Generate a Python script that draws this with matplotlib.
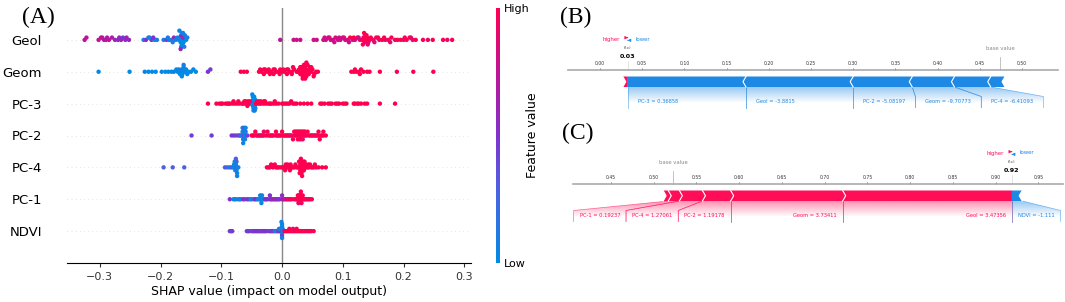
import numpy as np
import matplotlib
matplotlib.use("Agg")
import matplotlib.pyplot as plt
from matplotlib.colors import LinearSegmentedColormap, to_rgb
from matplotlib.patches import Polygon, FancyArrowPatch
from matplotlib.cm import ScalarMappable
from matplotlib.ticker import MultipleLocator, FormatStrFormatter

W, H = 1065, 302
RED, BLUE = "#ff0d57", "#1e88e5"

# ---------------- (A) summary plot: shap value + scaled feature value per sample
features = ["Geol", "Geom", "PC-3", "PC-2", "PC-4", "PC-1", "NDVI"]

geol_shap = [-0.325, -0.322, -0.302, -0.298, -0.293, -0.290, -0.285, -0.280, -0.275, -0.270, -0.265, -0.262, -0.258, -0.252,
             -0.228, -0.224, -0.220, -0.215, -0.210, -0.206, -0.195, -0.190, -0.186, -0.182, -0.178, -0.175,
             -0.172, -0.170, -0.168, -0.167, -0.166, -0.165, -0.165, -0.164, -0.163, -0.162, -0.160, -0.158, -0.156, -0.166, -0.164, -0.163,
             -0.296, -0.288, -0.268, -0.256, -0.218, -0.212, -0.188, -0.180, -0.169, -0.167, -0.161,
             -0.003, 0.019, 0.024, 0.030, 0.052, 0.057,
             0.068, 0.072, 0.076, 0.080, 0.084, 0.088, 0.092, 0.096, 0.100, 0.104,
             0.108, 0.112, 0.116, 0.120, 0.124, 0.128,
             0.132, 0.134, 0.136, 0.137, 0.138, 0.140, 0.142, 0.144,
             0.150, 0.155, 0.160, 0.165, 0.170, 0.175, 0.180, 0.186,
             0.195, 0.200, 0.205, 0.210, 0.215, 0.220,
             0.232, 0.240, 0.248, 0.265, 0.272, 0.280,
             0.070, 0.078, 0.086, 0.094, 0.102, 0.110, 0.118, 0.126, 0.133, 0.135,
             0.139, 0.141, 0.146, 0.152, 0.158, 0.168, 0.178, 0.190, 0.202, 0.212]
geol_feat = [0.75, 0.75, 0.75, 0.7, 0.75, 0.7, 0.75, 0.7, 0.6, 0.55, 0.6, 0.5, 0.55, 0.6,
             0.1, 0.5, 0.1, 0.55, 0.1, 0.1, 0.1, 0.5, 0.1, 0.1, 0.6, 0.1,
             0.1, 0.0, 0.1, 0.0, 0.65, 0.0, 0.1, 0.0, 0.6, 0.0, 0.1, 0.0, 0.1, 0.0, 0.0, 0.1,
             0.75, 0.7, 0.55, 0.6, 0.1, 0.5, 0.1, 0.1, 0.0, 0.6, 0.1,
             0.75, 0.8, 0.8, 0.8, 0.8, 0.8,
             0.8, 0.8, 0.85, 0.8, 0.8, 0.85, 0.8, 0.8, 0.85, 0.8,
             0.8, 1.0, 0.85, 0.8, 1.0, 0.85,
             1.0, 1.0, 0.9, 1.0, 1.0, 1.0, 0.9, 1.0,
             0.85, 1.0, 0.9, 1.0, 0.85, 1.0, 1.0, 0.9,
             1.0, 0.9, 1.0, 1.0, 0.9, 1.0,
             1.0, 0.9, 1.0, 1.0, 0.9, 1.0,
             0.8, 0.85, 0.8, 0.8, 0.85, 0.8, 1.0, 0.8, 1.0, 1.0,
             1.0, 0.9, 1.0, 0.85, 1.0, 1.0, 0.9, 1.0, 1.0, 0.9]

geom_shap = [-0.302, -0.251, -0.226, -0.220, -0.214, -0.208, -0.198, -0.192, -0.187, -0.182, -0.178, -0.174,
             -0.172, -0.170, -0.168, -0.166, -0.165, -0.164, -0.162, -0.160, -0.158, -0.156, -0.154, -0.150, -0.146, -0.142, -0.165, -0.162,
             -0.122, -0.118,
             -0.068, -0.063, -0.058, -0.038, -0.034, -0.030, -0.026, -0.022, -0.018, -0.014, -0.010, -0.006, -0.003, -0.030, -0.022, -0.014,
             0.000, 0.004, 0.008, 0.012, 0.016, 0.020, 0.024, 0.008, 0.016,
             0.026, 0.028, 0.030, 0.032, 0.034, 0.036, 0.038, 0.040, 0.042, 0.044, 0.046, 0.048, 0.050, 0.053, 0.056, 0.059,
             0.030, 0.032, 0.034, 0.036, 0.038, 0.040, 0.042, 0.034, 0.038,
             0.114, 0.118, 0.122, 0.126, 0.130, 0.134, 0.140, 0.144, 0.161, 0.189, 0.216, 0.249,
             -0.036, -0.028, -0.020, -0.012, -0.004, 0.002, 0.010, 0.018, 0.044, 0.048, 0.052, 0.046, 0.040, 0.120, 0.128]
geom_feat = [0.0, 0.0, 0.05, 0.0, 0.0, 0.0, 0.05, 0.0, 0.0, 0.0, 0.05, 0.0,
             0.0, 0.05, 0.0, 0.0, 0.1, 0.0, 0.0, 0.05, 0.0, 0.0, 0.0, 0.05, 0.0, 0.0, 0.0, 0.1,
             0.5, 0.45,
             1.0, 1.0, 1.0, 1.0, 1.0, 1.0, 1.0, 1.0, 1.0, 1.0, 1.0, 1.0, 1.0, 1.0, 1.0, 1.0,
             1.0, 1.0, 1.0, 1.0, 1.0, 1.0, 1.0, 1.0, 1.0,
             1.0, 1.0, 1.0, 1.0, 1.0, 1.0, 1.0, 1.0, 1.0, 1.0, 1.0, 1.0, 1.0, 1.0, 1.0, 1.0,
             1.0, 1.0, 1.0, 1.0, 1.0, 1.0, 1.0, 1.0, 1.0,
             1.0, 1.0, 1.0, 1.0, 1.0, 1.0, 1.0, 1.0, 1.0, 1.0, 1.0, 1.0,
             1.0, 1.0, 1.0, 1.0, 1.0, 1.0, 1.0, 1.0, 1.0, 1.0, 1.0, 1.0, 1.0, 1.0, 1.0]

pc3_shap = [-0.122, -0.108, -0.103, -0.098, -0.093, -0.090, -0.086, -0.082, -0.078, -0.074, -0.070, -0.066,
            -0.064, -0.061, -0.058, -0.055, -0.052, -0.060, -0.056,
            -0.050, -0.049, -0.048, -0.048, -0.047, -0.047, -0.046, -0.046, -0.045, -0.045, -0.044, -0.048, -0.047,
            -0.043, -0.040, -0.037, -0.034, -0.030, -0.026, -0.022, -0.018, -0.014, -0.010, -0.006, -0.038, -0.030,
            0.000, 0.006, 0.012, 0.018, 0.024, 0.030, 0.036, 0.042, 0.048,
            0.063, 0.070, 0.076, 0.082, 0.088, 0.094, 0.100, 0.106, 0.118, 0.124, 0.130, 0.136, 0.140, 0.161, 0.186,
            -0.100, -0.088, -0.080, -0.072, -0.062, -0.057, -0.053, -0.041, -0.035, -0.028, -0.020,
            -0.012, 0.003, 0.009, 0.015, 0.021, 0.066, 0.079, 0.091, 0.103, 0.120, 0.126,
            -0.049, -0.046, -0.045]
pc3_feat = [1.0, 1.0, 1.0, 1.0, 1.0, 1.0, 1.0, 1.0, 1.0, 1.0, 1.0, 1.0,
            1.0, 1.0, 1.0, 1.0, 1.0, 1.0, 1.0,
            0.05, 0.0, 0.05, 0.1, 0.0, 0.05, 0.0, 0.1, 0.05, 0.0, 0.05, 0.0, 0.05,
            1.0, 1.0, 1.0, 1.0, 1.0, 1.0, 1.0, 1.0, 1.0, 1.0, 1.0, 1.0, 1.0,
            1.0, 1.0, 1.0, 1.0, 1.0, 1.0, 1.0, 1.0, 1.0,
            1.0, 1.0, 1.0, 1.0, 1.0, 1.0, 1.0, 1.0, 1.0, 1.0, 1.0, 1.0, 1.0, 1.0, 1.0,
            1.0, 1.0, 1.0, 1.0, 1.0, 1.0, 1.0, 1.0, 1.0, 1.0, 1.0,
            1.0, 1.0, 1.0, 1.0, 1.0, 1.0, 1.0, 1.0, 1.0, 1.0, 1.0,
            0.05, 0.0, 0.05]

pc2_shap = [-0.149, -0.116, -0.083, -0.079, -0.075, -0.071,
            -0.069, -0.067, -0.066, -0.065, -0.064, -0.063, -0.062, -0.061, -0.060, -0.059, -0.057, -0.065, -0.063, -0.061,
            -0.050, -0.046, -0.042, -0.038, -0.034, -0.030, -0.026, -0.022, -0.018, -0.014, -0.010, -0.006, -0.002, -0.040, -0.030, -0.020, -0.010,
            0.000, 0.004, 0.008, 0.012, 0.016, 0.020, 0.022, 0.024, 0.026, 0.028, 0.030, 0.032, 0.034, 0.036, 0.038, 0.040, 0.044, 0.048, 0.052,
            0.020, 0.024, 0.028, 0.032, 0.036, 0.026, 0.030, 0.034,
            0.056, 0.060, 0.064, 0.068, 0.072, 0.060, 0.066,
            -0.048, -0.044, -0.036, -0.032, -0.024, -0.016, -0.008, -0.004, 0.002, 0.006, 0.010, 0.014, 0.018,
            0.022, 0.026, 0.030, 0.034, 0.038, 0.042, 0.046, 0.050, 0.054, 0.058, 0.062, 0.068,
            -0.064, -0.062, -0.060]
pc2_feat = [0.45, 0.45, 0.45, 0.5, 0.4, 0.45,
            0.4, 0.05, 0.1, 0.05, 0.05, 0.4, 0.05, 0.05, 0.1, 0.05, 0.4, 0.05, 0.05, 0.1,
            1.0, 0.9, 1.0, 1.0, 1.0, 0.9, 1.0, 1.0, 1.0, 0.9, 1.0, 1.0, 1.0, 1.0, 0.9, 1.0, 1.0,
            1.0, 1.0, 1.0, 0.9, 1.0, 1.0, 1.0, 1.0, 0.9, 1.0, 1.0, 1.0, 1.0, 1.0, 0.9, 1.0, 1.0, 1.0, 1.0,
            1.0, 1.0, 0.9, 1.0, 1.0, 1.0, 1.0, 1.0,
            1.0, 1.0, 1.0, 1.0, 1.0, 1.0, 1.0,
            1.0, 1.0, 0.9, 1.0, 1.0, 1.0, 0.9, 1.0, 1.0, 1.0, 1.0, 0.9, 1.0,
            1.0, 1.0, 1.0, 0.9, 1.0, 1.0, 1.0, 1.0, 0.9, 1.0, 1.0, 1.0,
            0.05, 0.4, 0.05]

pc4_shap = [-0.195, -0.180, -0.161,
            -0.094, -0.090, -0.086, -0.083, -0.080, -0.079, -0.078, -0.077, -0.077, -0.076, -0.076, -0.075, -0.075, -0.074, -0.072,
            -0.025, -0.020, -0.015, -0.010, -0.006, -0.003, -0.018, -0.008,
            0.000, 0.004, 0.008, 0.012, 0.016, 0.020, 0.006, 0.010, 0.014,
            0.024, 0.026, 0.028, 0.030, 0.031, 0.032, 0.033, 0.033, 0.034, 0.034, 0.035, 0.036, 0.038, 0.040, 0.042, 0.044,
            0.046, 0.048, 0.030, 0.032, 0.036, 0.028,
            0.052, 0.056, 0.060, 0.066, 0.072,
            -0.022, -0.012, 0.002, 0.005, 0.009, 0.013, 0.018, 0.022, 0.029, 0.031, 0.033, 0.035, 0.037, 0.039,
            0.043, 0.050, 0.054,
            -0.078, -0.076, -0.074]
pc4_feat = [0.3, 0.3, 0.3,
            0.3, 0.3, 0.1, 0.3, 0.05, 0.05, 0.05, 0.05, 0.3, 0.05, 0.05, 0.05, 0.3, 0.05, 0.1,
            1.0, 1.0, 1.0, 1.0, 1.0, 1.0, 1.0, 1.0,
            1.0, 1.0, 1.0, 1.0, 1.0, 1.0, 1.0, 1.0, 1.0,
            1.0, 1.0, 1.0, 1.0, 1.0, 1.0, 1.0, 1.0, 1.0, 1.0, 1.0, 1.0, 1.0, 1.0, 1.0, 1.0,
            1.0, 1.0, 1.0, 1.0, 1.0, 1.0,
            1.0, 1.0, 1.0, 1.0, 1.0,
            1.0, 1.0, 1.0, 1.0, 1.0, 1.0, 1.0, 1.0, 1.0, 1.0, 1.0, 1.0, 1.0, 1.0,
            1.0, 1.0, 1.0,
            0.05, 0.3, 0.05]

pc1_shap = [-0.086, -0.080, -0.076, -0.072, -0.068, -0.062, -0.058,
            -0.055, -0.050, -0.046, -0.042, -0.038, -0.036, -0.035, -0.034, -0.033, -0.032, -0.030,
            -0.028, -0.024, -0.020, -0.016, -0.012, -0.008, -0.004, -0.020, -0.010,
            0.000, 0.004, 0.008, 0.012, 0.016, 0.000, 0.006,
            0.020, 0.024, 0.026, 0.028, 0.029, 0.030, 0.030, 0.031, 0.032, 0.034, 0.036, 0.040, 0.044, 0.049,
            0.026, 0.034, 0.028, 0.032,
            -0.078, -0.070, -0.064, -0.052, -0.044, -0.040, -0.036, -0.034,
            -0.026, -0.018, -0.014, -0.006, 0.002, 0.010, 0.014,
            0.022, 0.025, 0.027, 0.029, 0.031, 0.033, 0.038, 0.042, 0.046]
pc1_feat = [0.5, 0.05, 0.1, 0.05, 0.1, 0.05, 0.5,
            0.5, 0.05, 0.5, 0.1, 0.05, 0.05, 0.1, 0.05, 0.05, 0.1, 0.05,
            0.5, 0.55, 0.5, 0.6, 0.5, 0.55, 0.6, 0.5, 0.55,
            0.6, 0.7, 0.9, 1.0, 0.7, 0.55, 1.0,
            1.0, 0.9, 1.0, 1.0, 1.0, 0.9, 1.0, 1.0, 1.0, 1.0, 0.9, 1.0, 1.0, 1.0,
            1.0, 1.0, 0.9, 1.0,
            0.05, 0.1, 0.5, 0.05, 0.5, 0.1, 0.05, 0.05,
            0.5, 0.55, 0.6, 0.5, 0.7, 0.9, 1.0,
            1.0, 1.0, 0.9, 1.0, 1.0, 1.0, 1.0, 0.9, 1.0]

ndvi_shap = [-0.086, -0.084, -0.082,
             -0.058, -0.054, -0.050, -0.046, -0.042, -0.038, -0.034, -0.030, -0.026, -0.048, -0.040, -0.032,
             -0.022, -0.018, -0.014, -0.010, -0.008, -0.016, -0.012,
             -0.004, -0.003, -0.002, -0.001, -0.001, 0.000, 0.000, 0.000, 0.000, 0.001, 0.001, 0.002,
             0.004, 0.008, 0.012, 0.016, 0.020, 0.024, 0.028, 0.032, 0.036, 0.040, 0.044, 0.048, 0.052,
             0.010, 0.018, 0.026, 0.014, 0.022,
             -0.056, -0.044, -0.036, -0.028, -0.020, -0.006, -0.005, 0.000, -0.001,
             0.006, 0.012, 0.018, 0.024, 0.030, 0.034, 0.038, 0.042, 0.046]
ndvi_feat = [0.45, 0.45, 0.45,
             0.45, 0.5, 0.45, 0.45, 0.5, 0.45, 0.45, 0.5, 0.45, 0.45, 0.5, 0.5,
             0.45, 0.1, 0.5, 0.1, 0.45, 0.5, 0.1,
             0.1, 0.05, 0.45, 0.05, 0.1, 0.05, 0.05, 0.45, 0.05, 0.1, 0.05, 0.05,
             1.0, 1.0, 1.0, 0.9, 1.0, 1.0, 1.0, 1.0, 0.9, 1.0, 1.0, 1.0, 1.0,
             1.0, 1.0, 1.0, 1.0, 1.0,
             0.45, 0.5, 0.45, 0.5, 0.45, 0.5, 0.1, 0.05, 0.05,
             1.0, 1.0, 0.9, 1.0, 1.0, 1.0, 1.0, 0.9, 1.0]

shap_rows = [geol_shap, geom_shap, pc3_shap, pc2_shap, pc4_shap, pc1_shap, ndvi_shap]
feat_rows = [geol_feat, geom_feat, pc3_feat, pc2_feat, pc4_feat, pc1_feat, ndvi_feat]

# ---------------- (B) / (C) force plots
b_base = 0.474
b_names = ["PC-3", "Geol", "PC-2", "Geom", "PC-4", "PC-1", "NDVI"]
b_fvals = [0.36858, -3.8815, -5.08197, -9.70773, -6.41093, None, None]
b_shap = [-0.140, -0.127, -0.070, -0.050, -0.043, -0.017, 0.006]

c_base = 0.523
c_names = ["Geol", "Geom", "PC-2", "PC-4", "PC-1", "PC-3", "NDVI"]
c_fvals = [3.47356, 3.73411, 1.19178, 1.27061, 0.19237, None, -1.111]
c_shap = [0.198, 0.131, 0.033, 0.027, 0.013, 0.006, -0.012]


fig = plt.figure(figsize=(W / 100, H / 100), dpi=100)
cmap = LinearSegmentedColormap.from_list(
    "red_blue", [(0.0, (0, 139/255, 229/255)), (0.3, (80/255, 95/255, 225/255)),
                 (0.5, (128/255, 50/255, 205/255)), (0.75, (190/255, 20/255, 150/255)),
                 (1.0, (1.0, 0.0, 81/255))])


def swarm(vals, row_height=0.4, nbins=100):
    # same stacking as shap's summary plot
    vals = np.asarray(vals, float)
    quant = np.round(nbins * (vals - vals.min()) / (vals.max() - vals.min() + 1e-8))
    ys = np.zeros(len(vals))
    layer, last = 0, None
    for ind in np.argsort(quant, kind="stable"):
        if quant[ind] != last:
            layer = 0
        ys[ind] = np.ceil(layer / 2) * ((layer % 2) * 2 - 1)
        layer += 1
        last = quant[ind]
    return ys * 0.9 * (row_height / np.max(ys + 1))


ax = fig.add_axes([67 / W, 1 - 263 / H, (471 - 67) / W, (263 - 8) / H])
n = len(features)
for k, (name, sv, fv) in enumerate(zip(features, shap_rows, feat_rows)):
    assert len(sv) == len(fv), name
    y = n - 1 - k
    ax.axhline(y, color="#cccccc", lw=0.5, dashes=(1, 5), zorder=-1)
    ax.scatter(sv, y + swarm(sv), c=fv, cmap=cmap, vmin=0, vmax=1, s=10, lw=0, zorder=3)
ax.axvline(0, color="#888888", lw=1, zorder=-1)
ax.set_xlim(-0.354, 0.311)
ax.set_ylim(-1, n)
ax.set_yticks(range(n))
ax.set_yticklabels(features[::-1], fontsize=9.5)
ax.tick_params(axis="y", length=0, pad=18)
ax.tick_params(axis="x", labelsize=8, length=3, color="#333333", labelcolor="#333333")
ax.set_xlabel("SHAP value (impact on model output)", fontsize=9, labelpad=2)
for s in ["top", "right", "left"]:
    ax.spines[s].set_visible(False)

cax = fig.add_axes([496 / W, 1 - 263 / H, 3.5 / W, 255 / H])
cb = fig.colorbar(ScalarMappable(cmap=cmap), cax=cax, ticks=[0, 1])
cb.set_ticklabels(["Low", "High"])
cb.outline.set_visible(False)
cax.tick_params(length=0, labelsize=8, pad=3)
fig.text(533 / W, 1 - 135 / H, "Feature value", rotation=90, fontsize=9, ha="center", va="center")

rend = fig.canvas.get_renderer()


def force_panel(px, xlim, base, names, fvals, shaps, pad):
    x0, y0, x1, y1 = px
    fa = fig.add_axes([x0 / W, 1 - y1 / H, (x1 - x0) / W, (y1 - y0) / H])
    fa.patch.set_alpha(0)
    upp = (xlim[1] - xlim[0]) / (x1 - x0)
    for s in ["left", "right", "bottom"]:
        fa.spines[s].set_visible(False)
    fa.spines["top"].set_color("#aaaaaa")
    fa.spines["top"].set_linewidth(1.2)
    fa.xaxis.set_ticks_position("top")
    fa.xaxis.set_major_locator(MultipleLocator(0.05))
    fa.xaxis.set_major_formatter(FormatStrFormatter("%.2f"))
    fa.tick_params(axis="x", labelsize=3.3, length=1.5, width=0.5, pad=1.5, colors="#333333")
    fa.set_yticks([])

    shaps = np.asarray(shaps, float)
    fx = base + shaps.sum()
    top, bot = 6.5, 17.0
    mid = (top + bot) / 2
    ch = 3 * upp
    slant, fade_bot, line_bot, text_y = 26.5, 33.0, 37.5, 31.5

    def label_box(a, b, bl, br, color):
        syl = slant if abs(bl - a) > 1e-9 else bot
        syr = slant if abs(br - b) > 1e-9 else bot
        clip = Polygon([(a, bot), (b, bot), (br, syr), (br, fade_bot), (bl, fade_bot), (bl, syl)],
                       closed=True, fc="none", ec="none")
        fa.add_patch(clip)
        grad = np.zeros((60, 2, 4))
        grad[..., :3] = to_rgb(color)
        grad[..., 3] = np.linspace(0.45, 0.0, 60)[:, None]
        im = fa.imshow(grad, extent=(min(a, bl), max(b, br), fade_bot, bot), aspect="auto",
                       origin="upper", zorder=1, interpolation="bilinear")
        im.set_clip_path(clip)
        fa.plot([a, bl, bl], [bot, syl, line_bot], color=color, lw=0.5, alpha=0.6, zorder=2)
        fa.plot([b, br, br], [bot, syr, line_bot], color=color, lw=0.5, alpha=0.6, zorder=2)

    # features pushing higher (red), stacked leftwards from f(x)
    edge, limit = fx, fx
    for k, i in enumerate([j for j in np.argsort(-shaps) if shaps[j] > 0]):
        a, b = edge - shaps[i], edge
        edge = a
        right = [(b, top), (b, bot)] if k == 0 else [(b, top), (b + ch, mid), (b, bot)]
        fa.add_patch(Polygon(right + [(a, bot), (a + ch, mid), (a, top)], fc=RED, lw=0, zorder=3))
        fa.plot([a, a + ch, a], [top, mid, bot], color="white", lw=0.8, zorder=4)
        if fvals[i] is None:
            continue
        t = fa.text(0, text_y, f"{names[i]} = {fvals[i]}", color=RED, fontsize=3.7,
                    ha="right", va="center", zorder=5)
        w = t.get_window_extent(rend).width * upp
        br = min(b, limit)
        bl = br - max(b - a, w + 2 * pad * upp)
        limit = bl
        t.set_x(br - pad * upp)
        label_box(a, b, bl, br, RED)

    # features pushing lower (blue), stacked rightwards from f(x)
    edge, limit = fx, fx
    for k, i in enumerate([j for j in np.argsort(shaps) if shaps[j] < 0]):
        a, b = edge, edge - shaps[i]
        edge = b
        left = [(a, bot), (a, top)] if k == 0 else [(a, bot), (a - ch, mid), (a, top)]
        fa.add_patch(Polygon(left + [(b, top), (b - ch, mid), (b, bot)], fc=BLUE, lw=0, zorder=3))
        fa.plot([b, b - ch, b], [top, mid, bot], color="white", lw=0.8, zorder=4)
        if fvals[i] is None:
            continue
        t = fa.text(0, text_y, f"{names[i]} = {fvals[i]}", color=BLUE, fontsize=3.7,
                    ha="left", va="center", zorder=5)
        w = t.get_window_extent(rend).width * upp
        bl = max(a, limit)
        br = bl + max(b - a, w + 2 * pad * upp)
        limit = br
        t.set_x(bl + pad * upp)
        label_box(a, b, bl, br, BLUE)

    # base value / output markers
    fa.plot([base, base], [-13, 0], color="#aaaaaa", lw=0.5, clip_on=False)
    fa.text(base, -22, "base value", color="#888888", fontsize=3.8, ha="center", va="center")
    fa.plot([fx, fx], [-9, 0], color="#cccccc", lw=0.4, clip_on=False)
    fa.text(fx, -13.5, f"{fx:.2f}", fontsize=4.6, fontweight="bold", ha="center", va="center")
    fa.text(fx, -22, "f(x)", fontsize=3.2, color="#555555", ha="center", va="center")
    fa.text(fx - 8 * upp, -31, "higher", color=RED, fontsize=3.9, ha="right", va="center")
    fa.text(fx + 8 * upp, -31, "lower", color=BLUE, fontsize=3.9, ha="left", va="center")
    d = 3 * upp
    for xa, xb, yy, col in [(fx - d, fx + d, -32.3, RED), (fx + d, fx - d, -29.7, BLUE)]:
        fa.add_patch(FancyArrowPatch((xa, yy), (xb, yy), arrowstyle="-|>,head_length=1.2,head_width=0.6",
                                     mutation_scale=1.5, lw=0.5, color=col, clip_on=False))
    fa.set_xlim(xlim)
    fa.set_ylim(y1 - y0, 0)
    return fa


force_panel((568, 70, 1058, 112), (-0.0379, 0.5427), b_base, b_names, b_fvals, b_shap, pad=10)
force_panel((573, 184, 1063, 226), (0.4056, 0.9787), c_base, c_names, c_fvals, c_shap, pad=6)

for x, y, lab in [(22, 17, "(A)"), (560, 17, "(B)"), (562, 133, "(C)")]:
    fig.text(x / W, 1 - y / H, lab, family="Liberation Serif", fontsize=17, va="center", ha="left")

fig.savefig("out.png", dpi=100)
